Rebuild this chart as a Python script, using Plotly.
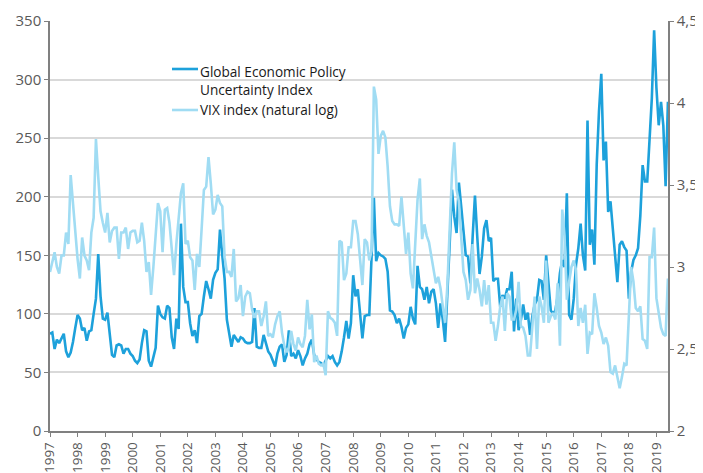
import plotly.graph_objects as go

# Monthly data, Jan 1997 .. Jun 2019
start_year = 1997
epu = [
    83, 84, 70, 78, 75, 79, 83, 68, 63, 67, 76, 88,          # 1997
    99, 96, 86, 88, 77, 85, 86, 100, 113, 151, 115, 96,      # 1998
    95, 101, 80, 65, 63, 73, 74, 73, 66, 70, 70, 66,         # 1999
    64, 60, 58, 61, 75, 86, 85, 60, 55, 63, 71, 107,         # 2000
    100, 97, 96, 107, 105, 80, 70, 96, 87, 177, 123, 110,    # 2001
    110, 92, 81, 86, 75, 98, 100, 115, 128, 121, 113, 129,   # 2002
    135, 138, 172, 150, 130, 95, 82, 72, 82, 79, 76, 80,     # 2003
    79, 76, 75, 75, 76, 105, 72, 71, 71, 82, 75, 68,         # 2004
    65, 60, 55, 66, 72, 74, 59, 65, 86, 64, 66, 62,          # 2005
    69, 64, 56, 62, 66, 74, 78, 65, 61, 59, 58, 56,          # 2006
    60, 64, 62, 64, 59, 56, 59, 68, 80, 94, 79, 92,          # 2007
    133, 115, 121, 101, 79, 98, 99, 99, 143, 199, 145, 152,  # 2008
    150, 149, 147, 136, 103, 102, 99, 92, 96, 89, 79, 88,    # 2009
    91, 106, 96, 91, 141, 123, 121, 112, 123, 109, 119, 121, # 2010
    109, 88, 109, 95, 76, 115, 160, 206, 183, 169, 212, 192, # 2011
    170, 150, 149, 126, 166, 201, 166, 134, 149, 173, 180, 162,  # 2012
    165, 128, 130, 130, 106, 116, 113, 121, 121, 136, 85, 113,   # 2013
    86, 95, 108, 95, 101, 82, 98, 108, 112, 129, 128, 112,       # 2014
    150, 126, 103, 100, 103, 115, 135, 146, 140, 203, 99, 95,    # 2015
    113, 142, 156, 177, 150, 137, 265, 159, 172, 142, 227, 273,  # 2016
    305, 231, 247, 187, 196, 173, 150, 127, 159, 162, 157, 154,  # 2017
    113, 136, 146, 150, 156, 184, 227, 213, 213, 248, 284, 342,  # 2018
    293, 261, 281, 261, 209, 281,                                # 2019
]
vix_ln = [
    2.97, 3.03, 3.09, 3.00, 2.96, 3.07, 3.07, 3.21, 3.14, 3.56, 3.39, 3.18,  # 1997
    3.05, 2.93, 3.18, 3.07, 3.04, 2.98, 3.21, 3.30, 3.78, 3.55, 3.34, 3.27,  # 1998
    3.21, 3.33, 3.15, 3.22, 3.24, 3.24, 3.05, 3.21, 3.21, 3.24, 3.11, 3.21,  # 1999
    3.22, 3.22, 3.15, 3.16, 3.27, 3.16, 2.97, 3.03, 2.83, 3.00, 3.20, 3.39,  # 2000
    3.34, 3.09, 3.35, 3.36, 3.27, 3.10, 2.95, 3.14, 3.29, 3.45, 3.51, 3.14,  # 2001
    3.16, 3.06, 3.04, 2.86, 3.08, 3.00, 3.23, 3.47, 3.49, 3.67, 3.51, 3.32,  # 2002
    3.35, 3.44, 3.39, 3.37, 3.06, 2.97, 2.97, 2.94, 3.11, 2.79, 2.81, 2.89,  # 2003
    2.70, 2.82, 2.85, 2.84, 2.74, 2.69, 2.73, 2.73, 2.64, 2.70, 2.79, 2.58,  # 2004
    2.59, 2.57, 2.65, 2.70, 2.73, 2.60, 2.52, 2.48, 2.51, 2.61, 2.53, 2.49,  # 2005
    2.57, 2.53, 2.51, 2.58, 2.80, 2.62, 2.71, 2.42, 2.46, 2.41, 2.40, 2.41,  # 2006
    2.34, 2.73, 2.69, 2.68, 2.66, 2.58, 3.16, 3.15, 2.92, 2.96, 3.12, 3.12,  # 2007
    3.28, 3.28, 3.20, 3.02, 2.89, 3.17, 3.15, 3.04, 3.10, 4.10, 4.02, 3.69,  # 2008
    3.80, 3.83, 3.79, 3.61, 3.37, 3.28, 3.26, 3.26, 3.25, 3.43, 3.23, 3.08,  # 2009
    3.21, 2.96, 2.87, 3.13, 3.41, 3.54, 3.17, 3.26, 3.19, 3.15, 3.06, 2.97,  # 2010
    2.90, 2.94, 2.87, 2.76, 2.66, 2.89, 3.23, 3.57, 3.76, 3.47, 3.40, 3.21,  # 2011
    2.97, 2.92, 2.80, 2.86, 3.14, 2.84, 2.93, 2.86, 2.76, 2.92, 2.77, 2.89,  # 2012
    2.66, 2.66, 2.55, 2.64, 2.76, 2.82, 2.61, 2.84, 2.82, 2.68, 2.68, 2.74,  # 2013
    2.91, 2.64, 2.63, 2.58, 2.46, 2.46, 2.66, 2.82, 2.50, 2.82, 2.76, 2.66,  # 2014
    3.04, 2.66, 2.70, 2.72, 2.68, 2.90, 2.52, 3.35, 3.19, 2.80, 2.91, 3.00,  # 2015
    3.04, 2.98, 2.64, 2.75, 2.66, 2.77, 2.47, 2.60, 2.59, 2.84, 2.75, 2.64,  # 2016
    2.60, 2.53, 2.57, 2.52, 2.36, 2.35, 2.40, 2.34, 2.26, 2.33, 2.41, 2.40,  # 2017
    2.71, 3.00, 2.91, 2.75, 2.73, 2.76, 2.56, 2.55, 2.50, 3.06, 3.06, 3.24,  # 2018
    2.81, 2.71, 2.63, 2.59, 2.58, 2.93,                                      # 2019
]
year_ticks = list(range(1997, 2020))
year_labels = [str(y) for y in year_ticks]
left_ticks = [0, 50, 100, 150, 200, 250, 300, 350]
right_ticks = [2, 2.5, 3, 3.5, 4, 4.5]
right_labels = ["2", "2,5", "3", "3,5", "4", "4,5"]

x_epu = [start_year + i / 12 for i in range(len(epu))]
x_vix = [start_year + i / 12 for i in range(len(vix_ln))]

DARK = "#1DA1DB"
LIGHT = "#A0DCF3"
AX = "#808080"
TXT = "#595959"
FONT = "Open Sans"

# page body has an 8px margin: the figure starts at (8, 8)
OFF = 8
W, H = 695, 465
ML, MR, MT, MB = 50 - OFF, OFF + W - 668, 21 - OFF, OFF + H - 431

fig = go.Figure()
fig.add_trace(go.Scatter(x=x_epu, y=epu, mode="lines", yaxis="y",
                         line=dict(color=DARK, width=2.6), showlegend=False,
                         name="Global Economic Policy Uncertainty Index"))
fig.add_trace(go.Scatter(x=x_vix, y=vix_ln, mode="lines", yaxis="y2",
                         line=dict(color=LIGHT, width=2.6), showlegend=False,
                         name="VIX index (natural log)"))

# custom legend (decoration, in paper coordinates; px are page pixels)
def px_x(px):
    return (px - 50) / 618

def px_y(py):
    return (431 - py) / 410

fig.add_shape(type="line", xref="paper", yref="paper",
              x0=px_x(172), x1=px_x(198), y0=px_y(69), y1=px_y(69),
              line=dict(color=DARK, width=2.6))
fig.add_shape(type="line", xref="paper", yref="paper",
              x0=px_x(172), x1=px_x(198), y0=px_y(110), y1=px_y(110),
              line=dict(color=LIGHT, width=2.6))
fig.add_annotation(xref="paper", yref="paper", x=px_x(198), y=px_y(60),
                   xanchor="left", yanchor="top", align="left",
                   showarrow=False,
                   text="Global Economic Policy<br>Uncertainty Index",
                   font=dict(family=FONT, size=13.6, color="#1a1a1a"))
fig.add_annotation(xref="paper", yref="paper", x=px_x(198), y=px_y(110),
                   xanchor="left", yanchor="middle", align="left",
                   showarrow=False, text="VIX index (natural log)",
                   font=dict(family=FONT, size=13.6, color="#1a1a1a"))

fig.update_layout(
    width=W, height=H,
    margin=dict(l=ML, r=MR, t=MT, b=MB, pad=0),
    paper_bgcolor="white", plot_bgcolor="white",
    font=dict(family=FONT, size=14, color=TXT),
    xaxis=dict(range=[1997, 2019.42], tickmode="array", tickvals=year_ticks,
               ticktext=year_labels, tickangle=-90, showgrid=False,
               showline=True, linecolor=AX, linewidth=1.5, ticks="outside",
               ticklen=4, tickcolor=AX, zeroline=False, automargin=False,
               tickfont=dict(size=13.5, color=TXT)),
    yaxis=dict(range=[0, 350], tickmode="array", tickvals=left_ticks,
               showgrid=True, gridcolor="#D9D9D9", gridwidth=1.5,
               showline=True, linecolor=AX, linewidth=1.5, ticks="outside",
               ticklen=4, tickcolor=AX, zeroline=False, automargin=False,
               tickfont=dict(size=15, color=TXT)),
    yaxis2=dict(range=[2, 4.5], overlaying="y", side="right", tickmode="array",
                tickvals=right_ticks, ticktext=right_labels, showgrid=False,
                showline=True, linecolor=AX, linewidth=1.5, ticks="outside",
                ticklen=4, tickcolor=AX, zeroline=False, automargin=False,
                tickfont=dict(size=15, color=TXT)),
)

fig.write_html("out.html")
